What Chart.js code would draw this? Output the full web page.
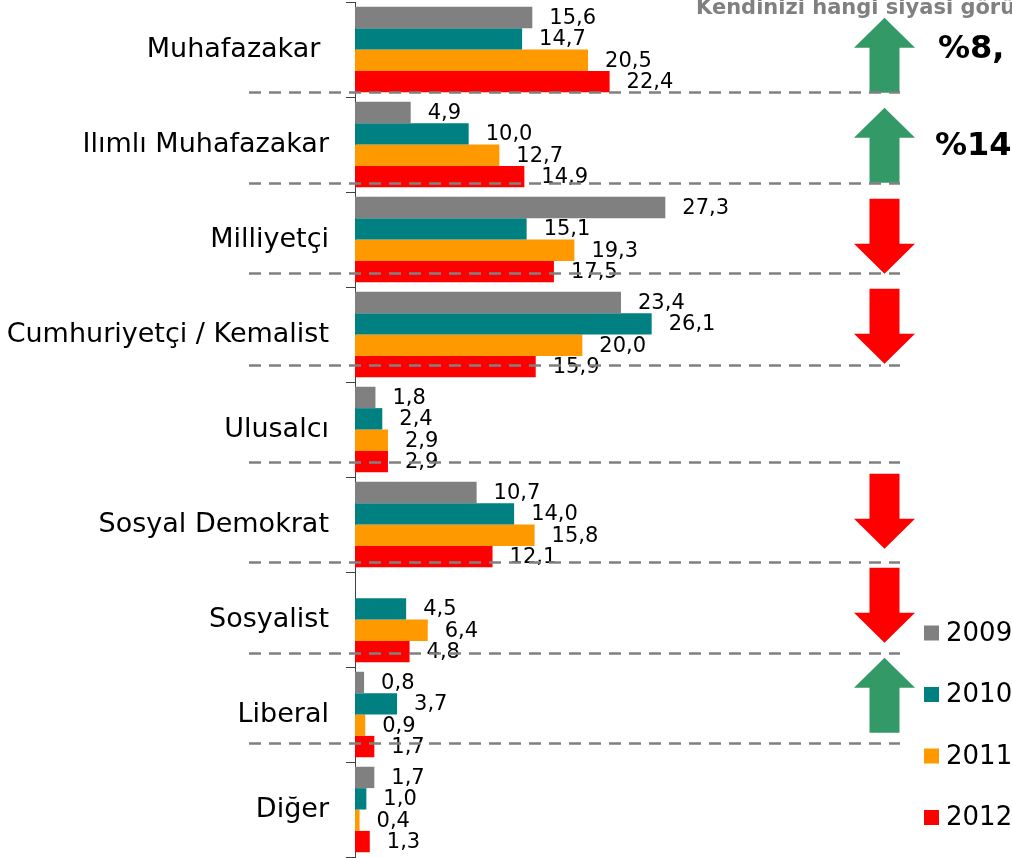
<!DOCTYPE html>
<html>
<head>
<meta charset="utf-8">
<script src="https://cdn.jsdelivr.net/npm/chart.js@4.4.1/dist/chart.umd.min.js"></script>
<style>
  html, body { margin: 0; padding: 0; background: #ffffff; overflow: hidden; }
  #wrap { width: 1012px; height: 858px; position: relative; }
</style>
</head>
<body>
<div id="wrap"><canvas id="c" width="1012" height="858"></canvas></div>
<script>
// ---- DATA ----
const categories = ["Muhafazakar ", "Ilımlı Muhafazakar", "Milliyetçi", "Cumhuriyetçi / Kemalist", "Ulusalcı", "Sosyal Demokrat", "Sosyalist", "Liberal", "Diğer"];
const seriesLabels = ["2009", "2010", "2011", "2012"];
const values2009 = [15.6, 4.9, 27.3, 23.4, 1.8, 10.7, null, 0.8, 1.7];
const values2010 = [14.7, 10.0, 15.1, 26.1, 2.4, 14.0, 4.5, 3.7, 1.0];
const values2011 = [20.5, 12.7, 19.3, 20.0, 2.9, 15.8, 6.4, 0.9, 0.4];
const values2012 = [22.4, 14.9, 17.5, 15.9, 2.9, 12.1, 4.8, 1.7, 1.3];
const seriesColors = ["#808080", "#008080", "#FF9900", "#FF0000"];
// trend arrows per category ("up" / "down" / null)
const trendArrows = ["up", "up", "down", "down", null, "down", "down", "up", null];
const titleText = "Kendinizi hangi siyasi görüşe yakın hissediyorsunuz?";
const changeTexts = ["%8,", "%14"];

// ---- decoration layout (band fractions relative to category centre) ----
const dashOffsets = [0.45, 0.41, 0.355, 0.32, 0.345, 0.395, 0.35, 0.30];
const arrowTops = [-0.333, -0.386, -0.428, -0.481, null, -0.534, -0.544, -0.597, null];

const fmt = v => v.toFixed(1).replace('.', ',');

const decoPlugin = {
  id: 'deco',
  afterDatasetsDraw(chart) {
    const ctx = chart.ctx;
    const y = chart.scales.y;
    const band = (y.getPixelForValue(1) - y.getPixelForValue(0));
    ctx.save();
    // value labels
    ctx.font = '21px "DejaVu Sans", Verdana, sans-serif';
    ctx.fillStyle = '#000';
    ctx.textAlign = 'left';
    ctx.textBaseline = 'middle';
    chart.data.datasets.forEach((ds, di) => {
      const meta = chart.getDatasetMeta(di);
      meta.data.forEach((bar, i) => {
        const v = ds.data[i];
        if (v === null || v === undefined) return;
        ctx.fillText(fmt(v), bar.x + 17, bar.y + 1);
      });
    });
    // arrows
    trendArrows.forEach((dir, i) => {
      if (!dir) return;
      const c = y.getPixelForValue(i);
      const top = c + arrowTops[i] * band;
      const h = 75;
      const cx = 884.5, hw = 30.5, sw = 15, hh = 30;
      ctx.beginPath();
      if (dir === 'up') {
        ctx.fillStyle = '#339966';
        ctx.moveTo(cx, top);
        ctx.lineTo(cx + hw, top + hh);
        ctx.lineTo(cx + sw, top + hh);
        ctx.lineTo(cx + sw, top + h);
        ctx.lineTo(cx - sw, top + h);
        ctx.lineTo(cx - sw, top + hh);
        ctx.lineTo(cx - hw, top + hh);
      } else {
        ctx.fillStyle = '#FF0000';
        ctx.moveTo(cx - sw, top);
        ctx.lineTo(cx + sw, top);
        ctx.lineTo(cx + sw, top + h - hh);
        ctx.lineTo(cx + hw, top + h - hh);
        ctx.lineTo(cx, top + h);
        ctx.lineTo(cx - hw, top + h - hh);
        ctx.lineTo(cx - sw, top + h - hh);
      }
      ctx.closePath();
      ctx.fill();
    });
    // dashed separators
    ctx.strokeStyle = '#808080';
    ctx.lineWidth = 2.5;
    ctx.setLineDash([12, 8]);
    dashOffsets.forEach((f, i) => {
      const yy = Math.round(y.getPixelForValue(i) + f * band) + 0.5;
      ctx.beginPath();
      ctx.moveTo(249, yy);
      ctx.lineTo(900, yy);
      ctx.stroke();
    });
    ctx.setLineDash([]);
    // title (cut off at right edge)
    ctx.font = 'bold 21px "DejaVu Sans", Verdana, sans-serif';
    ctx.fillStyle = '#808080';
    ctx.textBaseline = 'alphabetic';
    ctx.fillText(titleText, 696, 14);
    // change texts
    ctx.font = 'bold 32px "DejaVu Sans", Verdana, sans-serif';
    ctx.fillStyle = '#000';
    ctx.fillText(changeTexts[0], 938, 58);
    ctx.fillText(changeTexts[1], 935, 155);
    // legend
    ctx.font = '26px "DejaVu Sans", Verdana, sans-serif';
    ctx.textBaseline = 'middle';
    chart.data.datasets.forEach((ds, di) => {
      const ly = 633 + di * 61.5;
      ctx.fillStyle = ds.backgroundColor;
      ctx.fillRect(924, ly - 7.5, 15, 15);
      ctx.fillStyle = '#000';
      ctx.fillText(ds.label, 946, ly + 1);
    });
    ctx.restore();
  }
};

const datasets = [values2009, values2010, values2011, values2012].map((vals, i) => ({
  label: seriesLabels[i],
  data: vals,
  backgroundColor: seriesColors[i],
  borderWidth: 0,
  barPercentage: 1.0,
  categoryPercentage: 0.9
}));

new Chart(document.getElementById('c'), {
  type: 'bar',
  data: { labels: categories, datasets },
  options: {
    indexAxis: 'y',
    responsive: false,
    animation: false,
    layout: { padding: { top: 2, bottom: 1, left: 0, right: 0 } },
    plugins: { legend: { display: false }, tooltip: { enabled: false }, title: { display: false } },
    scales: {
      x: { display: false, min: 0, max: 57.8 },
      y: {
        afterFit(scale) { scale.width = 355; scale.paddingTop = 0; scale.paddingBottom = 0; },
        grid: { offset: true, drawOnChartArea: false, drawTicks: true, tickLength: 9, color: '#404040', lineWidth: 1 },
        border: { display: true, color: '#404040', width: 1 },
        ticks: {
          padding: 17,
          color: '#000',
          font: { family: '"DejaVu Sans", Verdana, sans-serif', size: 27 }
        }
      }
    }
  },
  plugins: [decoPlugin]
});
</script>
</body>
</html>
